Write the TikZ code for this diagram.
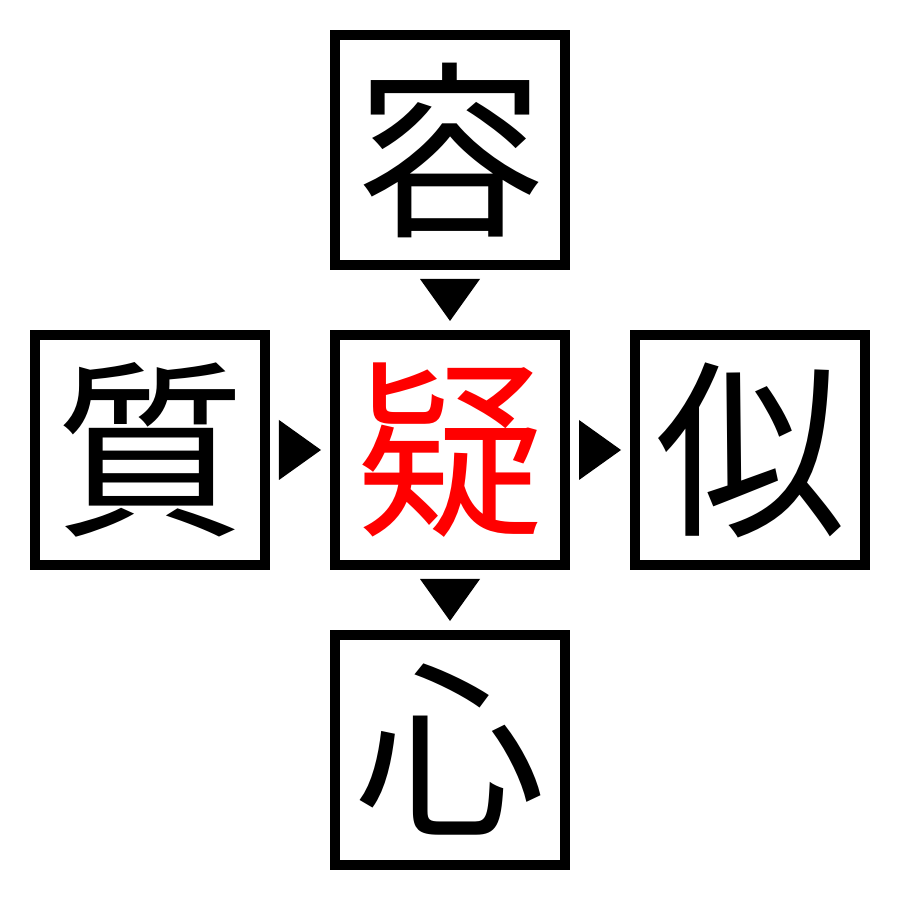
\documentclass[tikz,border=0pt]{standalone}
\usepackage{fontspec}
\usepackage{xcolor}
\usepackage{tikz}
\usetikzlibrary{calc,positioning}
\newfontfamily\jpfont{Noto Sans CJK JP}
\tikzset{
  kanjibox/.style={
    draw,
    line width=0.1cm,
    minimum size=2.3cm,
    inner sep=0pt,
    font=\jpfont\fontsize{54}{54}\selectfont
  }
}

\begin{document}
\begin{tikzpicture}
		\useasboundingbox (0,0) rectangle (9,9);
		\node[kanjibox,text=red] at (4.5,4.5) (mid) {疑};
		\node[kanjibox,above=0.6cm of mid] (top) {容};
		\node[kanjibox,below=0.6cm of mid] (bottom) {心};
		\node[kanjibox,left=0.6cm of mid] (left) {質};
		\node[kanjibox,right=0.6cm of mid] (right) {似};
		\foreach \a/\b/\r in {top/mid/-90,mid/bottom/-90,left/mid/0,mid/right/0} {
			\coordinate (g) at ($(\a)!0.5!(\b)$);
			\fill[shift={(g)},rotate=\r] (-0.21,0.3) -- (0.21,0) -- (-0.21,-0.3) -- cycle;
		};
	\end{tikzpicture}
\end{document}
